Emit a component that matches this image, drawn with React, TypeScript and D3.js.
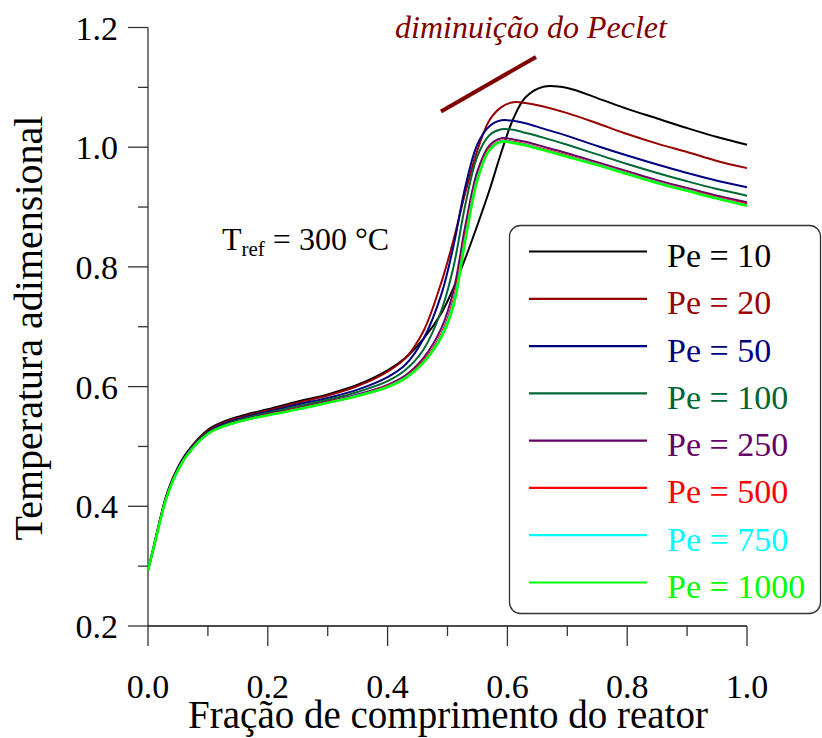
import React from "react";
import * as d3 from "d3";

// Reactor length fraction grid shared by every profile
const xGrid = [0, 0.01, 0.02, 0.03, 0.045, 0.065, 0.1, 0.13, 0.17, 0.2, 0.25, 0.3, 0.35, 0.4, 0.43, 0.46, 0.49, 0.51, 0.53, 0.55, 0.57, 0.59, 0.61, 0.63, 0.66, 0.7, 0.75, 0.8, 0.85, 0.9, 0.95, 1.0];

// Dimensionless temperature profiles, one per Peclet number
const pe10 = [0.293, 0.335, 0.378, 0.416, 0.455, 0.490, 0.528, 0.543, 0.555, 0.562, 0.575, 0.587, 0.603, 0.627, 0.648, 0.680, 0.723, 0.765, 0.815, 0.870, 0.928, 0.992, 1.048, 1.083, 1.101, 1.099, 1.082, 1.064, 1.048, 1.032, 1.017, 1.004];
const pe20 = [0.293, 0.334, 0.377, 0.415, 0.454, 0.489, 0.526, 0.541, 0.553, 0.560, 0.573, 0.585, 0.601, 0.625, 0.648, 0.693, 0.775, 0.845, 0.925, 0.995, 1.045, 1.067, 1.075, 1.074, 1.068, 1.057, 1.040, 1.022, 1.006, 0.992, 0.977, 0.965];
const pe50 = [0.293, 0.334, 0.376, 0.414, 0.453, 0.488, 0.524, 0.539, 0.551, 0.558, 0.570, 0.581, 0.595, 0.616, 0.637, 0.680, 0.755, 0.835, 0.935, 1.005, 1.035, 1.045, 1.044, 1.040, 1.031, 1.019, 1.002, 0.986, 0.971, 0.957, 0.944, 0.933];
const pe100 = [0.293, 0.333, 0.375, 0.413, 0.452, 0.487, 0.523, 0.537, 0.549, 0.556, 0.567, 0.578, 0.591, 0.609, 0.628, 0.662, 0.728, 0.800, 0.905, 0.985, 1.020, 1.030, 1.029, 1.024, 1.016, 1.004, 0.988, 0.972, 0.957, 0.943, 0.930, 0.919];
const pe250 = [0.293, 0.333, 0.375, 0.412, 0.451, 0.486, 0.522, 0.536, 0.547, 0.554, 0.564, 0.575, 0.587, 0.603, 0.619, 0.648, 0.698, 0.760, 0.870, 0.960, 1.003, 1.015, 1.013, 1.009, 1.001, 0.990, 0.975, 0.960, 0.945, 0.932, 0.919, 0.908];
const pe500 = [0.293, 0.333, 0.374, 0.412, 0.450, 0.485, 0.521, 0.535, 0.546, 0.553, 0.563, 0.574, 0.585, 0.601, 0.616, 0.643, 0.689, 0.745, 0.855, 0.950, 0.998, 1.011, 1.009, 1.005, 0.997, 0.986, 0.972, 0.957, 0.942, 0.929, 0.916, 0.905];
const pe750 = [0.293, 0.333, 0.374, 0.412, 0.450, 0.485, 0.521, 0.535, 0.546, 0.552, 0.562, 0.573, 0.585, 0.600, 0.615, 0.641, 0.686, 0.740, 0.850, 0.948, 0.996, 1.010, 1.008, 1.004, 0.996, 0.985, 0.971, 0.956, 0.941, 0.928, 0.915, 0.903];
const pe1000 = [0.293, 0.333, 0.374, 0.411, 0.450, 0.485, 0.521, 0.535, 0.546, 0.552, 0.562, 0.573, 0.584, 0.599, 0.614, 0.640, 0.683, 0.735, 0.845, 0.945, 0.995, 1.009, 1.007, 1.003, 0.995, 0.984, 0.970, 0.955, 0.940, 0.927, 0.914, 0.902];

const seriesLabels = ["Pe = 10", "Pe = 20", "Pe = 50", "Pe = 100", "Pe = 250", "Pe = 500", "Pe = 750", "Pe = 1000"];
const seriesValues = [pe10, pe20, pe50, pe100, pe250, pe500, pe750, pe1000];
const seriesColors = ["#000000", "#990000", "#000080", "#006633", "#660066", "#ff0000", "#00ffff", "#00ff00"];

const xTicks = [0, 0.2, 0.4, 0.6, 0.8, 1.0];
const yTicks = [0.2, 0.4, 0.6, 0.8, 1.0, 1.2];

const W = 822;
const H = 738;
const serif = "Liberation Serif, Times New Roman, serif";

export default function App() {
  const x = d3.scaleLinear().domain([0, 1]).range([148, 747]);
  const y = d3.scaleLinear().domain([0.2, 1.2]).range([626, 27.5]);

  const line = d3
    .line<[number, number]>()
    .x((d) => x(d[0]))
    .y((d) => y(d[1]))
    .curve(d3.curveCatmullRom.alpha(0.5));

  const minorX = d3.range(0, 1.0001, 0.1).filter((v) => !xTicks.some((t) => Math.abs(t - v) < 1e-6));
  const minorY = d3.range(0.2, 1.2001, 0.1).filter((v) => !yTicks.some((t) => Math.abs(t - v) < 1e-6));

  const rowY = d3.scaleLinear().domain([0, 7]).range([255, 586]);
  const axisColor = "#333";
  const tf = { fontFamily: serif };

  return (
    <svg width={W} height={H} style={{ position: "absolute", left: 0, top: 0, background: "#fff" }}>
      {/* axes */}
      <line x1={x(0)} x2={x(0)} y1={y(1.2)} y2={y(0.2)} stroke={axisColor} strokeWidth={1.3} />
      <line x1={x(0)} x2={x(1)} y1={y(0.2)} y2={y(0.2)} stroke="#111" strokeWidth={1.3} />
      {xTicks.map((t) => (
        <g key={"xt" + t}>
          <line x1={x(t)} x2={x(t)} y1={y(0.2)} y2={y(0.2) + 20} stroke={axisColor} strokeWidth={1.3} />
          <text x={x(t)} y={698} fontSize={34} textAnchor="middle" fill="#000" style={tf}>
            {t.toFixed(1)}
          </text>
        </g>
      ))}
      {minorX.map((t) => (
        <line key={"xm" + t} x1={x(t)} x2={x(t)} y1={y(0.2)} y2={y(0.2) + 10} stroke={axisColor} strokeWidth={1.3} />
      ))}
      {yTicks.map((t) => (
        <g key={"yt" + t}>
          <line x1={x(0) - 20} x2={x(0)} y1={y(t)} y2={y(t)} stroke={axisColor} strokeWidth={1.3} />
          <text x={118} y={y(t) + 12} fontSize={34} textAnchor="end" fill="#000" style={tf}>
            {t.toFixed(1)}
          </text>
        </g>
      ))}
      {minorY.map((t) => (
        <line key={"ym" + t} x1={x(0) - 10} x2={x(0)} y1={y(t)} y2={y(t)} stroke={axisColor} strokeWidth={1.3} />
      ))}

      {/* axis titles */}
      <text x={448} y={728} fontSize={39} textAnchor="middle" fill="#000" style={tf}>
        Fração de comprimento do reator
      </text>
      <text transform={`translate(42,328) rotate(-90)`} fontSize={40} textAnchor="middle" fill="#000" style={tf}>
        Temperatura adimensional
      </text>

      {/* profiles */}
      {seriesValues.map((vals, i) => (
        <path
          key={"s" + i}
          d={line(xGrid.map((xv, k) => [xv, vals[k]]) as [number, number][]) || ""}
          fill="none"
          stroke={seriesColors[i]}
          strokeWidth={i === 7 ? 2.4 : 2}
        />
      ))}

      {/* annotations */}
      <text x={222} y={250} fontSize={32} fill="#000" style={tf}>
        T<tspan fontSize={21} dy={6}>ref</tspan>
        <tspan dy={-6}> = 300 °C</tspan>
      </text>
      <text x={395} y={38} fontSize={32} fontStyle="italic" fill="#800000" style={tf}>
        diminuição do Peclet
      </text>
      <line x1={441} y1={111.5} x2={536} y2={57} stroke="#800000" strokeWidth={4} />

      {/* legend */}
      <rect x={509.5} y={225.5} width={311} height={388} rx={11} ry={11} fill="#fff" stroke="#333" strokeWidth={1.3} />
      {seriesLabels.map((lab, i) => (
        <g key={"lg" + i}>
          <line x1={529} x2={647} y1={rowY(i) - 3.5} y2={rowY(i) - 3.5} stroke={seriesColors[i]} strokeWidth={2.2} />
          <text x={667} y={rowY(i) + 12} fontSize={34} fill={seriesColors[i]} style={tf}>
            {lab}
          </text>
        </g>
      ))}
    </svg>
  );
}
